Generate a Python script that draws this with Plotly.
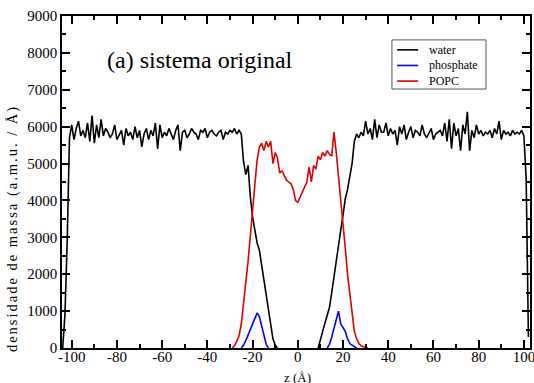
import plotly.graph_objects as go

# ---- data ----
z_water = list(range(-104, 103))
water = [
    0, 900, 2900, 5700, 6050, 5650, 5950, 6150, 5750, 5900,          # -104..-95
    5700, 6100, 5600, 6300, 5550, 6050, 5700, 6200, 5750, 5950,       # -94..-85
    5850, 5700, 5800, 6050, 5650, 5800, 5900, 5500, 5950, 5750,       # -84..-75
    5850, 5650, 6000, 5700, 5900, 5450, 5800, 5950, 5650, 5900,       # -74..-65
    5750, 6100, 5400, 6050, 5700, 5850, 5750, 5950, 5800, 5650,       # -64..-55
    5900, 6050, 5350, 5850, 5900, 5700, 5800, 5950, 5850, 5800,       # -54..-45
    5650, 5900, 5850, 5950, 5700, 5850, 5900, 5800, 5750, 5850,       # -44..-35
    5900, 5650, 5850, 5800, 5900, 5850, 5950, 5800, 5900, 5800,       # -34..-25
    5050, 4700, 4950, 4100, 3550, 3150, 2850, 2650, 2250, 1850,       # -24..-15
    1400, 1000, 550, 250, 80, 0, None, None, None, None,              # -14..-5
    None, None, None, None, None, None, None, None, None, None,       # -4..5
    None, None, None, 0, 200, 450, 670, 900, 1100, 1500, 1950,        # 6..16
    2350, 2850, 3200, 3600, 4050, 4300, 4600, 5000, 5600, 5800,       # 17..26
    5700, 5850, 5750, 6150, 5800, 5950, 5650, 6200, 5700, 6050,       # 27..36
    5850, 5850, 6100, 5750, 5950, 5800, 5900, 5500, 6000, 5800,       # 37..46
    6050, 5650, 5850, 6000, 5700, 5900, 5850, 5750, 6050, 5800,       # 47..56
    5700, 5850, 5950, 5650, 5800, 5850, 5900, 5750, 6100, 5600,       # 57..66
    6200, 5400, 6100, 5750, 5950, 5350, 6050, 5800, 6400, 5350,       # 67..76
    5900, 5700, 6050, 5800, 5900, 5750, 5850, 5800, 5900, 5700,       # 77..86
    5950, 5800, 6150, 5650, 5900, 5800, 5850, 5750, 5900, 5800,       # 87..96
    5850, 5800, 5900, 5750, 4600, 300,                                # 97..102
]

z_lipid = list(range(-29, 32))
popc = [
    0, 60, 180, 330, 650, 1200, 1700, 2350, 3050,                     # -29..-21
    3750, 4550, 5100, 5450, 5550, 5350, 5600, 5450, 5600, 5000,       # -20..-11
    5300, 5150, 4750, 4800, 4650, 4550, 4500, 4450, 4300, 4000,       # -10..-1
    3950, 4100, 4250, 4400, 4500, 4900, 4500, 4950, 4850, 5200,       # 0..9
    5100, 5300, 5200, 5350, 5250, 5200, 5850, 5300, 4700, 4100,       # 10..19
    3450, 2700, 2000, 1450, 850, 450, 250, 120, 60, 30,               # 20..29
    15, 0,                                                            # 30..31
]
phosphate = [
    None, None, None, None, 0, 80, 200, 350, 450,                     # -29..-21
    600, 800, 950, 850, 600, 350, 100, 0, None, None,                 # -20..-11
    None, None, None, None, None, None, None, None, None, None,       # -10..-1
    None, None, None, None, None, None, None, None, None, None,       # 0..9
    None, None, None, 0, 100, 300, 550, 750, 1000, 650,               # 10..19
    550, 450, 250, 120, 80, 30, 0, None, None, None,                  # 20..29
    None, None,                                                       # 30..31
]

x_ticks = [-100, -80, -60, -40, -20, 0, 20, 40, 60, 80, 100]
y_ticks = [0, 1000, 2000, 3000, 4000, 5000, 6000, 7000, 8000, 9000]
legend_names = ["water", "phosphate", "POPC"]
legend_colors = ["black", "#0000ff", "#e00000"]

FONT = "Liberation Serif, Times New Roman, DejaVu Serif, serif"

fig = go.Figure()
for name, zz, vv, col in [("water", z_water, water, legend_colors[0]),
                          ("phosphate", z_lipid, phosphate, legend_colors[1]),
                          ("POPC", z_lipid, popc, legend_colors[2])]:
    fig.add_trace(go.Scatter(x=zz, y=vv, mode="lines", name=name, showlegend=False,
                             connectgaps=False, line=dict(color=col, width=1.6)))

axis_common = dict(showline=True, linecolor="black", linewidth=1.5, mirror="allticks",
                   ticks="inside", ticklen=8, tickwidth=1.5, tickcolor="black",
                   showgrid=False, zeroline=False, automargin=False,
                   ticklabeloverflow="allow",
                   tickfont=dict(family=FONT, size=15, color="black"))

fig.update_xaxes(range=[-104.3, 102.7], tickvals=x_ticks, ticktext=[str(v) for v in x_ticks],
                 ticklabelstandoff=-6,
                 minor=dict(dtick=10, tick0=0, ticks="inside", ticklen=4, tickwidth=1.5,
                            tickcolor="black", showgrid=False),
                 **axis_common)
fig.update_yaxes(range=[0, 9000], tickvals=y_ticks, ticktext=[str(v) for v in y_ticks],
                 minor=dict(dtick=500, tick0=0, ticks="inside", ticklen=4, tickwidth=1.5,
                            tickcolor="black", showgrid=False),
                 **axis_common)

# legend box (drawn manually to match the compact Grace legend)
shapes = [dict(type="rect", xref="paper", yref="paper", x0=0.705, x1=0.906, y0=0.78, y1=0.928,
               line=dict(color="#555555", width=1), fillcolor="white", layer="above")]
annotations = []
for i, (nm, col) in enumerate(zip(legend_names, legend_colors)):
    yy = 0.898 - i * 0.047
    shapes.append(dict(type="line", xref="paper", yref="paper", x0=0.716, x1=0.761, y0=yy, y1=yy,
                       line=dict(color=col, width=1.6), layer="above"))
    annotations.append(dict(text=nm, x=0.779, y=yy, xref="paper", yref="paper", xanchor="left",
                            yanchor="middle", showarrow=False,
                            font=dict(family=FONT, size=12, color="black")))

annotations += [
    dict(text="(a) sistema original", x=0.295, y=0.867, xref="paper", yref="paper",
         xanchor="center", yanchor="middle",
         showarrow=False, font=dict(family=FONT, size=24, color="black")),
    dict(text='<span style="letter-spacing:2px">densidade de massa (a.m.u. / Å)</span>',
         x=-0.107, y=0.361, xanchor="center", yanchor="middle",
         xref="paper", yref="paper", showarrow=False, textangle=-90,
         font=dict(family=FONT, size=14.5, color="black")),
    dict(text="z (Å)", x=0.504, y=-0.090, xref="paper", yref="paper",
         xanchor="center", yanchor="middle",
         showarrow=False, font=dict(family=FONT, size=13, color="black")),
]

fig.update_layout(
    width=534, height=383,
    margin=dict(l=62, r=4, t=16, b=35, autoexpand=False),
    paper_bgcolor="white", plot_bgcolor="white",
    showlegend=False,
    shapes=shapes,
    annotations=annotations,
)

fig.write_html("out.html", config={"displayModeBar": False},
               post_script="document.body.style.margin='0';document.body.style.overflow='hidden';")
